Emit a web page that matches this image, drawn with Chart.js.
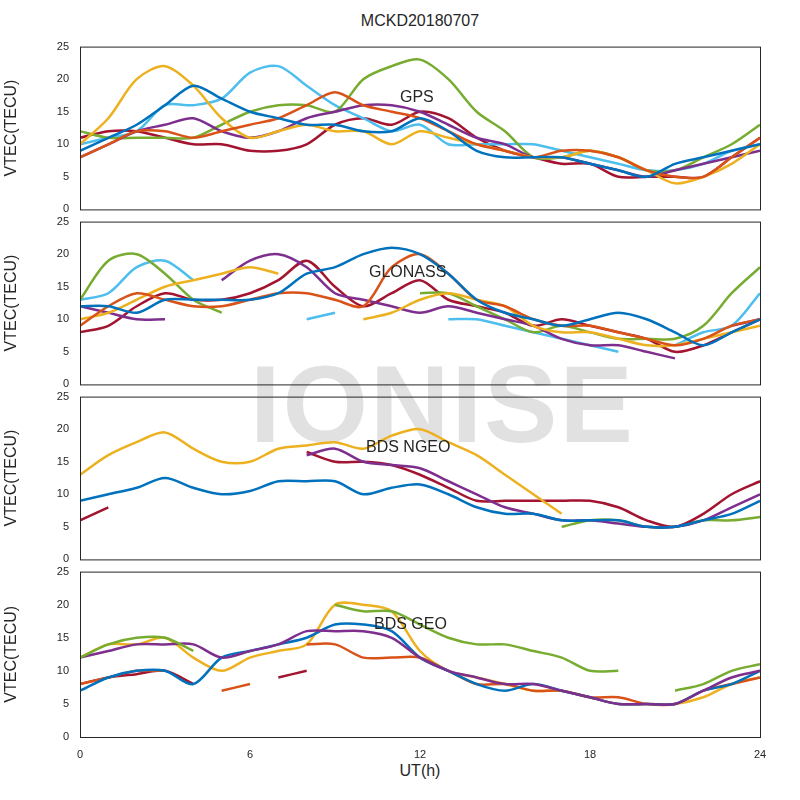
<!DOCTYPE html>
<html><head><meta charset="utf-8">
<script src="https://cdn.jsdelivr.net/npm/chart.js@4"></script>
<style>
body{margin:0;background:#fff;width:800px;height:800px;position:relative;font-family:"Liberation Sans",Arial,sans-serif;overflow:hidden}
canvas{position:absolute;left:0}
.t{position:absolute;color:#262626;white-space:nowrap}
</style></head><body>
<div class="t" style="left:0;width:840px;text-align:center;top:12px;font-size:16px">MCKD20180707</div>
<div class="t" style="left:250px;top:340px;font-size:110px;font-weight:bold;color:rgba(215,215,215,0.75);letter-spacing:2px">IONISE</div>
<div class="t" style="left:0;width:840px;text-align:center;top:762px;font-size:16px">UT(h)</div>
<canvas id="c0"></canvas><canvas id="c1"></canvas><canvas id="c2"></canvas><canvas id="c3"></canvas>
<div class="t" style="left:400px;top:88px;font-size:16px">GPS</div>
<div class="t" style="left:369px;top:263px;font-size:16px">GLONASS</div>
<div class="t" style="left:366px;top:438px;font-size:16px">BDS NGEO</div>
<div class="t" style="left:374px;top:615px;font-size:16px">BDS GEO</div>
<script>
const hours=[0,1,2,3,4,5,6,7,8,9,10,11,12,13,14,15,16,17,18,19,20,21,22,23,24];
const xTicks=[0,6,12,18,24];
const yTicks=[0,5,10,15,20,25];
const C={blue:'#0072BD',orange:'#D95319',yellow:'#EDB120',purple:'#7E2F8E',green:'#77AC30',cyan:'#4DBEEE',red:'#A2142F'};
const N=null;
const gps={
 blue:[9,11,13,16,19,17,15,14,13,13,12,12,14,12,9,8,8,8,7,6,5,7,8,9,10],
 orange:[8,10,12,12,11,12,13,14,16,18,16,15,14,12,10,9,8,9,9,8,6,5,5,8,11],
 yellow:[10,14,20,22,19,14,11,12,13,12,12,10,12,11,10,9,8,8,9,8,6,4,5,7,10],
 purple:[8,10,12,13,14,12,11,12,14,15,16,16,15,13,11,10,8,8,7,6,5,6,7,8,9],
 green:[12,11,11,11,11,13,15,16,16,15,20,22,23,20,15,12,8,8,9,8,6,6,8,10,13],
 cyan:[10,11,12,16,16,17,21,22,19,16,14,12,13,10,10,10,10,9,8,7,6,6,7,9,10],
 red:[11,12,12,11,10,10,9,9,10,13,14,13,15,14,11,9,8,7,7,5,5,5,5,8,11]};
const glonass={
 blue:[12,12,11,13,13,13,13,14,17,18,20,21,20,17,13,11,10,9,10,11,10,8,6,8,10],
 orange:[9,12,14,13,12,12,13,14,14,13,12,18,20,17,13,12,10,9,9,8,7,6,7,9,10],
 yellow:[10,11,13,15,16,17,18,17,N,N,10,11,13,14,13,12,9,8,8,7,6,6,7,8,9],
 purple:[12,11,10,10,N,16,19,20,18,14,13,12,11,12,11,10,9,7,6,6,5,4,N,9,10],
 green:[13,19,20,17,13,11,N,N,N,N,N,N,14,14,12,10,8,9,8,7,7,7,9,14,18],
 cyan:[13,14,18,19,16,N,N,N,10,11,N,N,N,10,10,9,8,7,6,5,N,6,8,9,14],
 red:[8,9,12,14,13,13,14,16,19,15,12,14,16,13,12,11,9,10,9,8,7,5,6,8,10]};
const ngeo={
 yellow:[13,16,18,19.5,17,15,15,17,17.5,18,17,19,20,18,16,13,10,7,N,N,N,N,N,N,13],
 blue:[9,10,11,12.5,11,10,10.5,12,12,12,10,11,11.5,10,8,7,7,6,6,6,5,5,6,7,9],
 purple:[N,N,N,N,N,N,N,N,16,17,15,14.5,14,12,10,8,7,6,6,5.5,5,5,6,8,10],
 red:[6,8,N,N,N,N,N,N,16.5,15,15,14.5,13,11,9,9,9,9,9,8,6,5,7,10,12],
 green:[N,N,N,N,N,N,N,N,N,N,N,N,N,N,N,N,N,5,6,6,5,5,6,6,6.5]};
const geo={
 green:[12,14,15,15,13,N,17,N,N,20,19,19,17,15,14,14,13,12,10,10,N,7,8,10,11],
 purple:[12,13,14,14,14,12,13,14,16,16,16,15,12,10,9,8,8,7,6,5,5,5,7,9,10],
 blue:[7,9,10,10,8,12,13,14,15,17,17,16,12,10,8,7,8,7,6,5,5,5,7,8,10],
 orange:[8,9,10,10,N,7,8,N,14,14,12,12,12,10,8,8,7,7,6,6,5,5,7,8,9],
 yellow:[12,14,14,15,12,10,12,13,14,20,20,19,13,10,9,8,7,7,6,5,5,5,6,8,9],
 red:[8,9,9.5,10,8,N,N,9,10,N,N,N,N,N,N,N,N,N,N,N,N,N,N,N,N]};
const panels=[[gps,47,208],[glonass,222,383],[ngeo,397,558],[geo,572,735]];
const box={id:'box',afterDraw(c){const a=c.chartArea,x=c.ctx;x.save();x.strokeStyle='#262626';x.lineWidth=1;x.strokeRect(a.left+0.5,a.top+0.5,a.right-a.left,a.bottom-a.top);x.restore();}};
panels.forEach(([d,top,bot],i)=>{
 const last=i===3;const cv=document.getElementById('c'+i);
 const h=bot-top+(last?47:21);
 cv.style.top=(top-10)+'px';cv.width=800;cv.height=h;cv.style.width='800px';cv.style.height=h+'px';
 new Chart(cv,{type:'line',
  data:{labels:hours,datasets:Object.keys(d).map(k=>({data:d[k].map((v,j)=>({x:hours[j],y:v})),borderColor:C[k],borderWidth:2.5,pointRadius:0,tension:0.3,spanGaps:false,fill:false}))},
  options:{responsive:false,animation:false,devicePixelRatio:1,layout:{padding:{top:5,right:40,bottom:last?0:5,left:0}},
   plugins:{legend:{display:false},tooltip:{enabled:false}},
   scales:{
    x:{type:'linear',min:0,max:24,grid:{display:false},border:{display:false},
     afterBuildTicks:a=>{a.ticks=xTicks.map(v=>({value:v}))},
     ticks:{display:last,color:'#262626',font:{size:11,family:'Liberation Sans'},maxRotation:0},
     afterFit:a=>{a.height=last?35:0}},
    y:{min:0,max:25,grid:{display:false},border:{display:false},
     afterBuildTicks:a=>{a.ticks=yTicks.map(v=>({value:v}))},
     ticks:{color:'#262626',font:{size:11,family:'Liberation Sans'}},
     title:{display:true,text:'VTEC(TECU)',color:'#262626',font:{size:16,family:'Liberation Sans'},padding:2},
     afterFit:a=>{a.width=80}}}},
  plugins:[box]});
});
</script></body></html>
